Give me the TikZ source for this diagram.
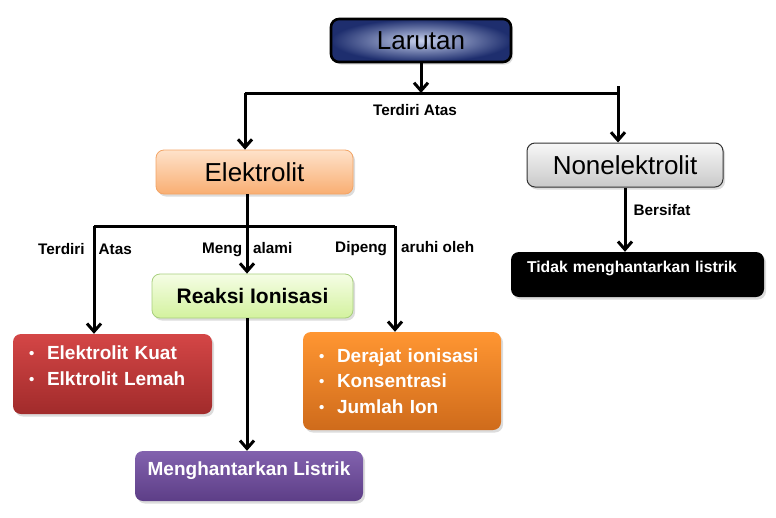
\documentclass[tikz,border=0pt]{standalone}
\usepackage{fontspec}
\setmainfont{Liberation Sans}
\usetikzlibrary{calc, positioning}
\usetikzlibrary{arrows.meta}
\usetikzlibrary{shadows}

\definecolor{navyOut}{HTML}{1E2E6E}
\definecolor{navyIn}{HTML}{C8D2EE}
\definecolor{peachTop}{HTML}{FEE2CA}
\definecolor{peachBot}{HTML}{F9AE72}
\definecolor{peachLine}{HTML}{F3A465}
\definecolor{greyTop}{HTML}{F7F7F7}
\definecolor{greyBot}{HTML}{C9C9C9}
\definecolor{limeTop}{HTML}{F5FDE5}
\definecolor{limeBot}{HTML}{D3F29E}
\definecolor{limeLine}{HTML}{A8CF7E}
\definecolor{redTop}{HTML}{D44646}
\definecolor{redBot}{HTML}{A12B2B}
\definecolor{orngTop}{HTML}{FF9632}
\definecolor{orngBot}{HTML}{CF6B1B}
\definecolor{plumTop}{HTML}{8262AE}
\definecolor{plumBot}{HTML}{5D3E87}

\newcommand{\bitem}[1]{\makebox[18pt][l]{\fontsize{15}{15}\selectfont\raisebox{1pt}{\textbullet}}#1}

\begin{document}
\begin{tikzpicture}[x=1pt, y=-1pt,
  box/.style={rounded corners=8pt, inner sep=0pt,
    drop shadow={shadow xshift=2pt, shadow yshift=-2.5pt, opacity=0.28}},
  conn/.style={line width=3pt},
  arr/.style={conn, -{Straight Barb[length=8pt, width=14pt]}},
  lbl/.style={font=\fontsize{15.3}{18}\selectfont\bfseries, inner sep=1pt},
  big/.style={font=\fontsize{26}{30}\selectfont},
  itm/.style={font=\fontsize{19}{25.5}\selectfont\bfseries, text=white, align=left}]
\useasboundingbox (0,0) rectangle (776,517);

\def\yBusTop{93}
\def\yBusSub{226}

% upper level
\node[box, big, draw=black, line width=2.6pt, inner color=navyIn, outer color=navyOut,
  minimum width=180pt, minimum height=43pt] (lar) at (421,40.5) {Larutan};
\node[box, big, draw=peachLine, line width=0.8pt, top color=peachTop, bottom color=peachBot,
  minimum width=197pt, minimum height=44pt] (elek) at (254.5,172) {Elektrolit};
\node[box, big, draw=black!80, line width=1pt, top color=greyTop, bottom color=greyBot,
  minimum width=196pt, minimum height=44pt] (nonel) at (625,165) {Nonelektrolit};

% lower level
\node[box, draw=limeLine, line width=0.8pt, top color=limeTop, bottom color=limeBot,
  font=\fontsize{21}{24}\selectfont\bfseries,
  minimum width=201pt, minimum height=44pt] (reaksi) at (252.5,296) {Reaksi Ionisasi};
\node[box, itm, top color=redTop, bottom color=redBot, inner xsep=16pt,
  text width=167pt, minimum height=80pt, text depth=42pt] (kuat) at (112.5,374)
  {\bitem{Elektrolit Kuat}\\ \bitem{Elktrolit Lemah}};
\node[box, itm, top color=orngTop, bottom color=orngBot, inner xsep=16pt,
  text width=166pt, minimum height=98pt] (faktor) at (402,381)
  {\bitem{Derajat ionisasi}\\ \bitem{Konsentrasi}\\ \bitem{Jumlah Ion}};
\node[box, itm, top color=plumTop, bottom color=plumBot, align=center,
  minimum width=228pt, minimum height=50pt, text depth=14pt] (hantar) at (249,476)
  {Menghantarkan Listrik};
\node[box, fill=black, text=white, font=\fontsize{15.7}{18}\selectfont\bfseries,
  align=left, inner xsep=16pt, text width=221pt, minimum height=45pt,
  text depth=16pt] (tidak) at (637.5,274.5) {Tidak menghantarkan listrik};

% connectors from Larutan
\coordinate (busL) at (245,\yBusTop);
\coordinate (busR) at (618,\yBusTop);
\coordinate (busM) at (lar.south |- busL);
\draw[arr] (lar.south) -- (busM);
\draw[conn] (busL) -- (busR);
\draw[arr] (busL) -- (busL |- elek.north);
\draw[arr] ($(busR)+(0,-7)$) -- (busR |- nonel.north);
\node[lbl, fill=white, anchor=base] (tAtas) at (415,115) {Terdiri Atas};

% connectors from Elektrolit
\coordinate (spine) at (247,0);
\coordinate (subL) at (94,\yBusSub);
\coordinate (subR) at (395,\yBusSub);
\draw[conn] (subL) -- (subR);
\draw[arr] (elek.south -| spine) -- (reaksi.north -| spine);
\draw[arr] (subL) -- (subL |- kuat.north);
\draw[arr] (subR) -- (subR |- faktor.north);
\draw[arr] (reaksi.south -| spine) -- (hantar.north -| spine);
\node[lbl, anchor=base west] (lTerdiri) at (37,254) {Terdiri\hspace{14pt}Atas};
\node[lbl, anchor=base west] (lMeng) at (201,253) {Meng\hspace{11pt}alami};
\node[lbl, anchor=base west] (lDipeng) at (334,252) {Dipeng\hspace{14pt}aruhi oleh};

% Nonelektrolit
\draw[arr] (nonel.south) -- (nonel.south |- tidak.north);
\node[lbl, anchor=base] (lBersifat) at (662,215) {Bersifat};
\end{tikzpicture}
\end{document}
